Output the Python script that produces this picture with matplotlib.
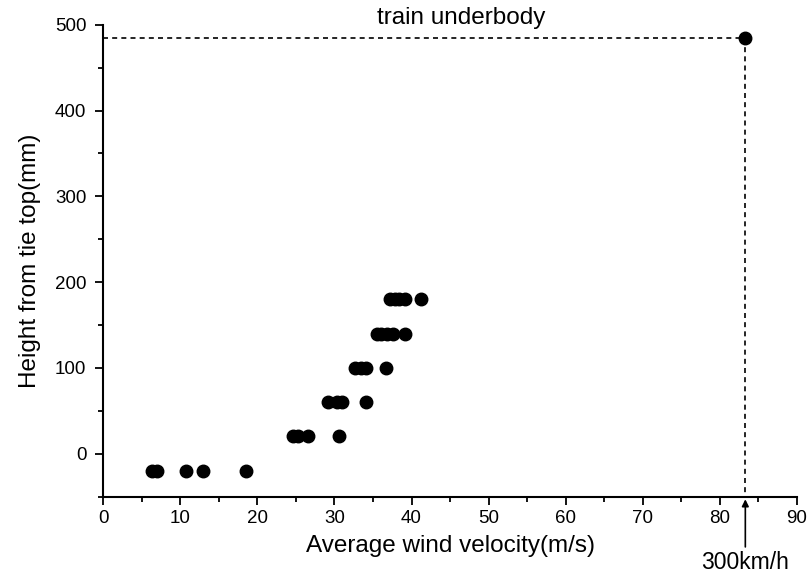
import matplotlib.pyplot as plt

plt.rcParams['font.family'] = ['Liberation Sans', 'DejaVu Sans']

# measured heights (mm) and wind velocities (m/s)
vel_m20 = [6.4, 7.0, 10.8, 12.9, 18.5]
vel_20 = [24.6, 25.3, 26.6, 30.6]
vel_60 = [29.2, 30.4, 31.0, 34.1]
vel_100 = [32.7, 33.4, 34.1, 36.7]
vel_140 = [35.5, 36.1, 36.8, 37.6, 39.2]
vel_180 = [37.2, 37.8, 38.4, 39.1, 41.2]
heights = [-20, 20, 60, 100, 140, 180]

train_vel = 83.3
train_height = 485

fig = plt.figure(figsize=(8.12, 5.77), dpi=100)
ax = fig.add_axes([0.127, 0.1395, 0.8545, 0.8175])

for h, vs in zip(heights, [vel_m20, vel_20, vel_60, vel_100, vel_140, vel_180]):
    ax.plot(vs, [h] * len(vs), 'o', color='black', ms=9, mec='black')

ax.plot([0, train_vel], [train_height, train_height], '--', color='black', lw=1.2, dashes=(3, 2.5))
ax.plot([train_vel, train_vel], [train_height, -50], '--', color='black', lw=1.2, dashes=(3, 2.5))
ax.plot([train_vel], [train_height], 'o', color='black', ms=9)

ax.text(46.5, 501.5, 'train underbody', ha='center', va='baseline', fontsize=17.5)

ax.annotate('', xy=(train_vel, -50), xytext=(train_vel, -112),
            arrowprops=dict(arrowstyle='-|>', color='black', lw=1.2, mutation_scale=10),
            annotation_clip=False)
ax.text(train_vel, -114, '300km/h', ha='center', va='top', fontsize=16.5)

ax.set_xlim(0, 90)
ax.set_ylim(-50, 500)
ax.set_xticks(range(0, 91, 10))
ax.set_xticks(range(5, 90, 10), minor=True)
ax.set_yticks([0, 100, 200, 300, 400, 500])
ax.set_yticks([-50, 50, 150, 250, 350, 450], minor=True)

ax.spines['top'].set_visible(False)
ax.spines['right'].set_visible(False)
ax.spines['left'].set_linewidth(1.5)
ax.spines['bottom'].set_linewidth(1.5)
ax.tick_params(which='major', direction='out', length=6, width=1.3, labelsize=13.5)
ax.tick_params(axis='y', which='major', pad=6)
ax.tick_params(which='minor', direction='out', length=3.5, width=1.3)

ax.set_xlabel('Average wind velocity(m/s)', fontsize=17.5, labelpad=6)
ax.set_ylabel('Height from tie top(mm)', fontsize=17.5, labelpad=10)

plt.savefig('out.png', dpi=100)
